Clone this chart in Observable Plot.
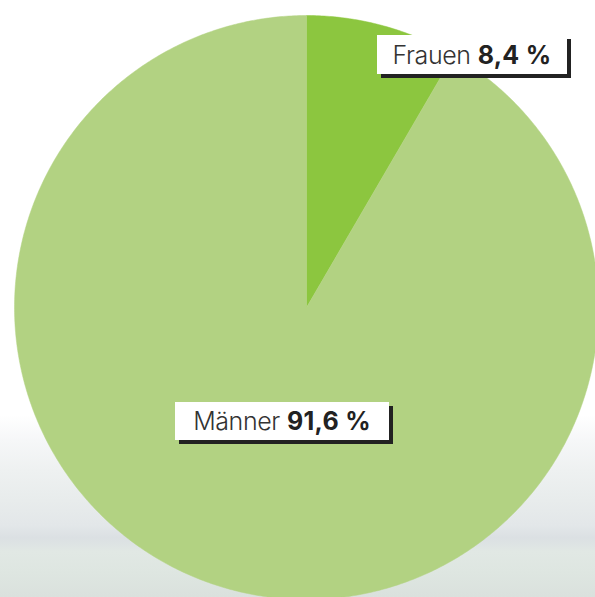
<!DOCTYPE html>
<html>
<head>
<meta charset="utf-8">
<script src="https://cdn.jsdelivr.net/npm/d3@7"></script>
<script src="https://cdn.jsdelivr.net/npm/@observablehq/plot@0.6"></script>
<style>
  html, body { margin: 0; padding: 0; }
  #wrap {
    position: relative; width: 595px; height: 597px; overflow: hidden;
    background: linear-gradient(to bottom, #ffffff 0px, #ffffff 415px, #f6f7f8 440px, #eef1f1 470px, #e8ecec 500px, #e3e7e9 525px, #dbe0e3 538px, #e1e8e4 552px, #dee6e1 572px, #dae1dd 597px);
    font-family: Inter, Roboto, "Noto Sans", sans-serif;
  }
  #chart { position: absolute; left: 0; top: 0; }
  .lbl {
    position: absolute; background: #fff; box-shadow: 4px 4px 0 #222;
    color: #333; font-size: 25px; font-weight: 300; white-space: nowrap; letter-spacing: -0.4px;
    display: flex; align-items: center; justify-content: center; box-sizing: border-box;
  }
  .lbl b { font-weight: 700; color: #222; margin-left: 7px; letter-spacing: 0.3px; }
</style>
</head>
<body>
<div id="wrap">
  <div id="chart"></div>
</div>
<script>
const categories = ["Frauen", "Männer"];
const shares = [8.4, 91.6];
const valueLabels = ["8,4 %", "91,6 %"];
const colors = ["#8cc63f", "#b2d282"];

// label box placement (layout)
const boxes = [
  {left: 377, top: 35, width: 190, height: 39},
  {left: 175, top: 402, width: 214, height: 38}
];

const total = d3.sum(shares);
const pieData = [];
let acc = 0;
categories.forEach((c, i) => {
  const a0 = acc / total * 2 * Math.PI;
  acc += shares[i];
  const a1 = acc / total * 2 * Math.PI;
  const n = Math.max(4, Math.ceil((a1 - a0) / (2 * Math.PI) * 720));
  const pts = [{cat: c, x: 0, y: 0}];
  for (let k = 0; k <= n; k++) {
    const a = a0 + (a1 - a0) * k / n;
    pts.push({cat: c, x: Math.sin(a), y: Math.cos(a)});
  }
  pts.push({cat: c, x: 0, y: 0});
  pieData.push(pts);
});

const plot = Plot.plot({
  width: 595,
  height: 597,
  margin: 0,
  x: {domain: [-1, 1], range: [14, 598], axis: null},
  y: {domain: [-1, 1], range: [599, 15], axis: null},
  style: {background: "transparent"},
  marks: pieData.map((pts, i) =>
    Plot.line(pts, {x: "x", y: "y", fill: colors[i], stroke: colors[i], strokeWidth: 0.5, curve: "linear"})
  )
});
document.getElementById("chart").appendChild(plot);

const wrap = document.getElementById("wrap");
categories.forEach((c, i) => {
  const d = document.createElement("div");
  d.className = "lbl";
  const b = boxes[i];
  Object.assign(d.style, {left: b.left + "px", top: b.top + "px", width: b.width + "px", height: b.height + "px"});
  d.appendChild(document.createTextNode(c));
  const s = document.createElement("b");
  s.textContent = valueLabels[i];
  d.appendChild(s);
  wrap.appendChild(d);
});
</script>
</body>
</html>
